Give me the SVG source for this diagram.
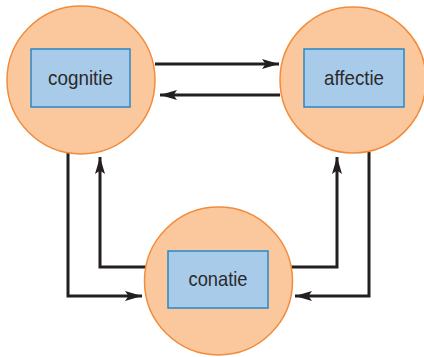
<svg xmlns="http://www.w3.org/2000/svg" width="424" height="357" viewBox="0 0 424 357">
  <style>
    .circle { fill: #FBC89E; stroke: #F28C3C; stroke-width: 1.5; }
    .box { fill: #A9CBEA; stroke: #2A87C6; stroke-width: 1.5; }
    .label { font-family: "Liberation Sans", Arial, sans-serif; font-size: 21px; fill: #2A2A2A; text-anchor: middle; }
    .link { fill: none; stroke: #231F20; stroke-width: 3; stroke-linejoin: miter; }
  </style>
  <defs>
    <marker id="arrow" markerUnits="userSpaceOnUse" markerWidth="20" markerHeight="12" refX="17" refY="6" orient="auto">
      <path d="M0,1 L17,6 L0,11 L3.5,6 Z" fill="#231F20"/>
    </marker>
  </defs>
  <rect width="424" height="357" fill="#FFFFFF"/>

  <g id="connectors">
    <!-- cognitie -> affectie -->
    <path class="link" d="M155,64 H279" marker-end="url(#arrow)"/>
    <!-- affectie -> cognitie -->
    <path class="link" d="M280,95 H160" marker-end="url(#arrow)"/>
    <!-- cognitie -> conatie -->
    <path class="link" d="M68,152 V296 H142" marker-end="url(#arrow)"/>
    <!-- conatie -> cognitie -->
    <path class="link" d="M147,267 H100 V157" marker-end="url(#arrow)"/>
    <!-- conatie -> affectie -->
    <path class="link" d="M290,267 H337 V157" marker-end="url(#arrow)"/>
    <!-- affectie -> conatie -->
    <path class="link" d="M369,152 V296 H295" marker-end="url(#arrow)"/>
  </g>

  <g id="cognitie">
    <circle class="circle" cx="81" cy="80" r="74"/>
    <rect class="box" x="31" y="49" width="99" height="58"/>
    <text class="label" x="80.5" y="84.5" textLength="65" lengthAdjust="spacingAndGlyphs">cognitie</text>
  </g>

  <g id="affectie">
    <circle class="circle" cx="353" cy="80" r="73"/>
    <rect class="box" x="304" y="49" width="100" height="58"/>
    <text class="label" x="354" y="84.5" textLength="60" lengthAdjust="spacingAndGlyphs">affectie</text>
  </g>

  <g id="conatie">
    <circle class="circle" cx="218.5" cy="281" r="74"/>
    <rect class="box" x="168" y="251" width="100" height="57"/>
    <text class="label" x="218" y="285.5" textLength="59" lengthAdjust="spacingAndGlyphs">conatie</text>
  </g>
</svg>
